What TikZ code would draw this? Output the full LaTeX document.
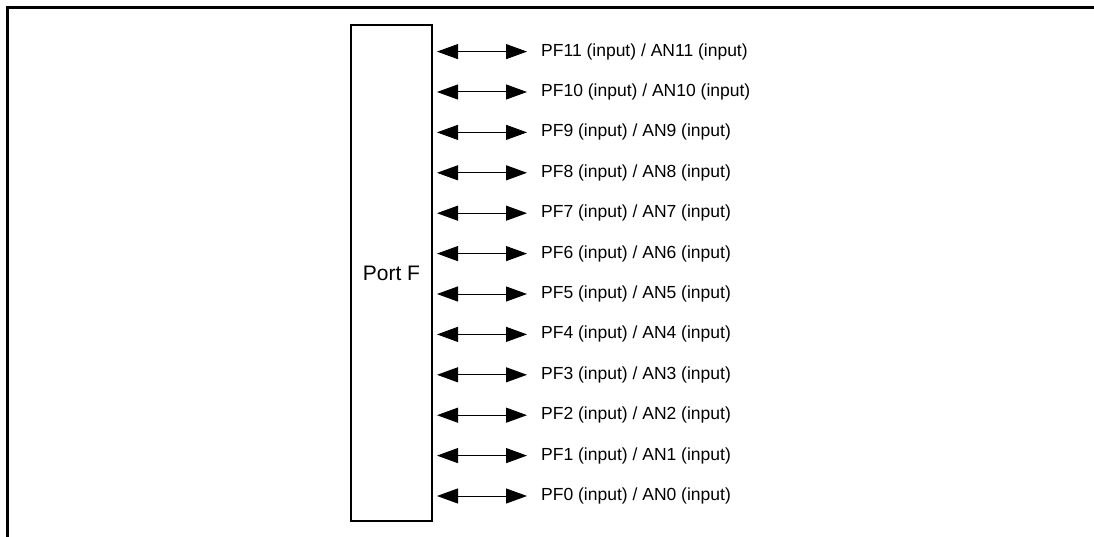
\documentclass[tikz,border=0pt]{standalone}
\usepackage{fontspec}
\setmainfont{Liberation Sans}
\usetikzlibrary{arrows.meta}
\tikzset{
  portbox/.style={draw, line width=2pt, minimum width=81pt, minimum height=496pt, inner sep=0pt, font=\fontsize{21}{24}\selectfont},
  pinlabel/.style={anchor=west, inner sep=0pt, font=\fontsize{17.5}{20}\selectfont},
  biarrow/.style={line width=1pt, {Triangle[length=21pt,width=15pt]}-{Triangle[length=21pt,width=15pt]}}
}
\begin{document}
\begin{tikzpicture}[x=1pt,y=-1pt]
\useasboundingbox (0,0) rectangle (1094,537);
\draw[line width=2.5pt] (7.5,537) -- (7.5,7.5) -- (1094,7.5);
\node[portbox] (port) at (391.5,273) {Port F};
\foreach \i in {0,...,11}{
  \pgfmathsetmacro{\yy}{496-\i*40.4}
  \node[pinlabel] (t\i) at (541,\yy) {PF\i\ (input) / AN\i\ (input)};
  \coordinate (a\i) at (437,\yy);
  \coordinate (b\i) at (527,\yy);
  \draw[biarrow] (a\i) -- (b\i);
}
\end{tikzpicture}
\end{document}
